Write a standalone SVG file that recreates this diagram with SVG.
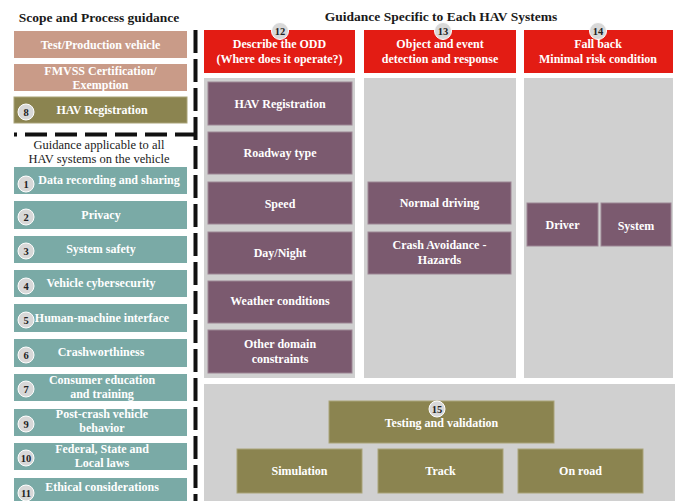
<svg xmlns="http://www.w3.org/2000/svg" width="675" height="501" viewBox="0 0 675 501">
<style>
text{font-family:"Liberation Serif","DejaVu Serif",serif;font-weight:bold;text-anchor:middle}
.title{font-size:13.5px;fill:#1a1a1a}
.sub{font-size:12.5px;fill:#1a1a1a;font-weight:normal}
.w{font-size:12px;fill:#ffffff}
.sal{fill:#c99b88}
.oli{fill:#8b8450;stroke:#a9a378;stroke-width:1}
.tea{fill:#7aaaa6}
.pur{fill:#7b5a6f;stroke:#9c8594;stroke-width:1}
.red{fill:#e31c14}
.gry{fill:#d0d0d0}
.cir{fill:#d8d8d8;stroke:#ffffff;stroke-width:1}
.num{font-size:10.5px;fill:#222}
.dash{stroke:#111;stroke-width:4;fill:none}
</style>
<rect width="675" height="501" fill="#ffffff"/>

<text class="title" x="99" y="22">Scope and Process guidance</text>
<text class="title" x="441" y="21">Guidance Specific to Each HAV Systems</text>

<g id="connectors">
<line class="dash" x1="195.5" y1="30" x2="195.5" y2="501" stroke-dasharray="23 6"/>
<line class="dash" x1="197" y1="134.5" x2="14" y2="134.5" stroke-dasharray="22 8"/>
</g>

<g id="scope">
<g id="n-test"><rect class="sal" x="14" y="31" width="173" height="27"/><text class="w" x="100.5" y="49">Test/Production vehicle</text></g>
<g id="n-fmvss"><rect class="sal" x="14" y="64" width="173" height="27"/><text class="w" x="100.5" y="75">FMVSS Certification/</text><text class="w" x="100.5" y="89">Exemption</text></g>
<g id="n-hav"><rect class="oli" x="14" y="97" width="173" height="26"/><circle class="cir" cx="26" cy="112" r="8"/><text class="num" x="26" y="116">8</text><text class="w" x="102" y="114">HAV Registration</text></g>
</g>

<text class="sub" x="99" y="149">Guidance applicable to all</text>
<text class="sub" x="99" y="163">HAV systems on the vehicle</text>

<g id="general">
<g id="n1"><rect class="tea" x="14" y="167" width="173" height="27"/><circle class="cir" cx="26" cy="184" r="8"/><text class="num" x="26" y="188">1</text><text class="w" x="109" y="184">Data recording and sharing</text></g>
<g id="n2"><rect class="tea" x="14" y="201" width="173" height="28"/><circle class="cir" cx="26" cy="217" r="8"/><text class="num" x="26" y="221">2</text><text class="w" x="101" y="219">Privacy</text></g>
<g id="n3"><rect class="tea" x="14" y="236" width="173" height="27"/><circle class="cir" cx="26" cy="251" r="8"/><text class="num" x="26" y="255">3</text><text class="w" x="101" y="253">System safety</text></g>
<g id="n4"><rect class="tea" x="14" y="270" width="173" height="27"/><circle class="cir" cx="26" cy="286" r="8"/><text class="num" x="26" y="290">4</text><text class="w" x="101" y="287">Vehicle cybersecurity</text></g>
<g id="n5"><rect class="tea" x="14" y="304" width="173" height="28"/><circle class="cir" cx="26" cy="320" r="8"/><text class="num" x="26" y="324">5</text><text class="w" x="102" y="322">Human-machine interface</text></g>
<g id="n6"><rect class="tea" x="14" y="339" width="173" height="28"/><circle class="cir" cx="26" cy="355" r="8"/><text class="num" x="26" y="359">6</text><text class="w" x="101" y="356">Crashworthiness</text></g>
<g id="n7"><rect class="tea" x="14" y="374" width="173" height="27"/><circle class="cir" cx="26" cy="389" r="8"/><text class="num" x="26" y="393">7</text><text class="w" x="102" y="384">Consumer education</text><text class="w" x="102" y="398">and training</text></g>
<g id="n9"><rect class="tea" x="14" y="409" width="173" height="27"/><circle class="cir" cx="26" cy="424" r="8"/><text class="num" x="26" y="428">9</text><text class="w" x="102" y="418">Post-crash vehicle</text><text class="w" x="102" y="432">behavior</text></g>
<g id="n10"><rect class="tea" x="14" y="443" width="173" height="27"/><circle class="cir" cx="26" cy="458" r="8"/><text class="num" x="26" y="462">10</text><text class="w" x="102" y="453">Federal, State and</text><text class="w" x="102" y="467">Local laws</text></g>
<g id="n11"><rect class="tea" x="14" y="478" width="173" height="28"/><circle class="cir" cx="26" cy="493" r="8"/><text class="num" x="26" y="497">11</text><text class="w" x="102" y="491">Ethical considerations</text></g>
</g>

<g id="col-odd">
<rect class="gry" x="204" y="78" width="151" height="300"/>
<rect class="red" x="204" y="30" width="151" height="43"/>
<circle class="cir" cx="280" cy="31" r="8.5"/><text class="num" x="280" y="35">12</text>
<text class="w" x="279.5" y="48">Describe the ODD</text>
<text class="w" x="279.5" y="63">(Where does it operate?)</text>
<g id="o1"><rect class="pur" x="208" y="82" width="144" height="43"/><text class="w" x="280" y="108">HAV Registration</text></g>
<g id="o2"><rect class="pur" x="208" y="132" width="144" height="42"/><text class="w" x="280" y="157">Roadway type</text></g>
<g id="o3"><rect class="pur" x="208" y="182" width="144" height="42"/><text class="w" x="280" y="208">Speed</text></g>
<g id="o4"><rect class="pur" x="208" y="232" width="144" height="42"/><text class="w" x="280" y="257">Day/Night</text></g>
<g id="o5"><rect class="pur" x="208" y="281" width="144" height="42"/><text class="w" x="280" y="305">Weather conditions</text></g>
<g id="o6"><rect class="pur" x="208" y="330" width="144" height="43"/><text class="w" x="280" y="348">Other domain</text><text class="w" x="280" y="363">constraints</text></g>
</g>

<g id="col-oedr">
<rect class="gry" x="364" y="78" width="152" height="300"/>
<rect class="red" x="364" y="30" width="152" height="43"/>
<circle class="cir" cx="443" cy="31" r="8.5"/><text class="num" x="443" y="35">13</text>
<text class="w" x="440" y="48">Object and event</text>
<text class="w" x="440" y="63">detection and response</text>
<g id="e1"><rect class="pur" x="368" y="182" width="143" height="42"/><text class="w" x="439.5" y="207">Normal driving</text></g>
<g id="e2"><rect class="pur" x="368" y="232" width="143" height="42"/><text class="w" x="439.5" y="249">Crash Avoidance -</text><text class="w" x="439.5" y="264">Hazards</text></g>
</g>

<g id="col-fallback">
<rect class="gry" x="524" y="78" width="149" height="300"/>
<rect class="red" x="524" y="30" width="149" height="43"/>
<circle class="cir" cx="598" cy="31" r="8.5"/><text class="num" x="598" y="35">14</text>
<text class="w" x="598" y="48">Fall back</text>
<text class="w" x="598" y="63">Minimal risk condition</text>
<g id="f1"><rect class="pur" x="527" y="203" width="71" height="43"/><text class="w" x="562.5" y="229">Driver</text></g>
<g id="f2"><rect class="pur" x="601" y="203" width="70" height="43"/><text class="w" x="636" y="230">System</text></g>
</g>

<g id="testing">
<rect class="gry" x="204" y="384" width="471" height="117"/>
<g id="t0"><rect class="oli" x="329" y="401" width="225" height="42"/><circle class="cir" cx="437" cy="409" r="8"/><text class="num" x="437" y="413">15</text><text class="w" x="441.5" y="427">Testing and validation</text></g>
<g id="t1"><rect class="oli" x="237" y="449" width="125" height="44"/><text class="w" x="299.5" y="475">Simulation</text></g>
<g id="t2"><rect class="oli" x="378" y="449" width="125" height="44"/><text class="w" x="440.5" y="475">Track</text></g>
<g id="t3"><rect class="oli" x="518" y="449" width="125" height="44"/><text class="w" x="580.5" y="475">On road</text></g>
</g>
</svg>
